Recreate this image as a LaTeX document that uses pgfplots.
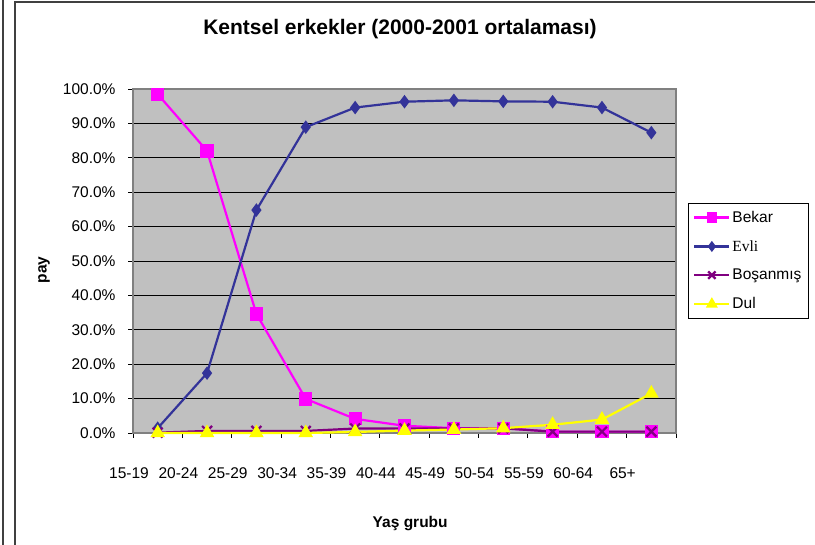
\documentclass[border=0pt]{standalone}
\usepackage{fontspec}
\setmainfont{Liberation Sans}
\newfontfamily\timesfont{Liberation Serif}
\usepackage{pgfplots}
\pgfplotsset{compat=1.18}
\definecolor{bekar}{HTML}{FF00FF}
\definecolor{evli}{HTML}{333399}
\definecolor{bosan}{HTML}{800080}
\definecolor{dul}{HTML}{FFFF00}
\definecolor{plotbg}{HTML}{C0C0C0}
\definecolor{borderc}{HTML}{808080}
\begin{document}
\begin{tikzpicture}[x=1bp,y=1bp]
\useasboundingbox (0,0) rectangle (815,545);
\draw[line width=1.2bp, black!75] (3,0) -- (3,545);
\draw[line width=1.2bp, black!75] (15,0) -- (15,543) -- (815,543);
\begin{axis}[
  at={(133bp,112bp)}, anchor=south west,
  scale only axis, width=543bp, height=344bp,
  xmin=-0.5, xmax=10.5, ymin=0, ymax=100,
  clip=false,
  axis background/.style={fill=plotbg},
  axis line style={draw=borderc, line width=1.8bp},
  ymajorgrids,
  major grid style={black, line width=0.9bp},
  tick align=outside,
  major tick length=5bp,
  tick style={black, line width=0.9bp},
  xtick pos=left, ytick pos=left,
  xtick={-0.5,0.5,1.5,2.5,3.5,4.5,5.5,6.5,7.5,8.5,9.5,10.5},
  xticklabels={15-19,20-24,25-29,30-34,35-39,40-44,45-49,50-54,55-59,60-64,\raisebox{2bp}{65+},{}},
  ytick={0,10,...,100},
  /pgf/number format/assume math mode=true,
  yticklabel={\pgfmathprintnumber[fixed,fixed zerofill,precision=1]{\tick}\%},
  ticklabel style={font=\fontsize{15.5bp}{18bp}\selectfont},
  xticklabel style={yshift=-26bp, xshift=-4bp},
  yticklabel style={xshift=-9bp},
  title={Kentsel erkekler (2000-2001 ortalaması)},
  title style={at={(axis description cs:0.4917,1.157)}, anchor=center, font=\bfseries\fontsize{21bp}{24bp}\selectfont},
  xlabel={Yaş grubu},
  xlabel style={at={(axis description cs:0.5105,0)}, anchor=center, yshift=-90.5bp, font=\bfseries\fontsize{15.5bp}{18bp}\selectfont},
  ylabel={pay},
  ylabel style={at={(axis description cs:-0.164,0.474)}, anchor=center, font=\bfseries\fontsize{15.5bp}{18bp}\selectfont},
  legend style={at={(1.022,0.669)}, anchor=north west, draw=black, line width=0.6bp, fill=white,
    font=\fontsize{15.5bp}{18bp}\selectfont, row sep=12.5bp, inner xsep=5bp, inner ysep=6bp},
  legend cell align=left,
  legend image code/.code={\draw[mark repeat=2,mark phase=2, mark options={solid,scale=0.75}] plot coordinates {(0bp,0bp)(17.5bp,0bp)(35bp,0bp)};},
]
\addplot[color=bekar, line width=2.2bp, mark=square*, mark size=5.5bp, mark options={solid}] coordinates {
(0,98.5)(1,82.0)(2,34.6)(3,9.9)(4,4.1)(5,2.1)(6,1.4)(7,1.4)(8,0.4)(9,0.4)(10,0.4)};
\addlegendentry{Bekar}
\addplot[color=evli, line width=2.2bp, mark=diamond*, mark size=5bp, mark options={solid}] coordinates {
(0,1.4)(1,17.4)(2,64.8)(3,88.9)(4,94.6)(5,96.3)(6,96.7)(7,96.4)(8,96.3)(9,94.6)(10,87.3)};
\addlegendentry{\timesfont Evli}
\addplot[color=bosan, line width=2.2bp, mark=x, mark size=7bp, mark options={solid}] coordinates {
(0,0.1)(1,0.6)(2,0.6)(3,0.6)(4,1.3)(5,1.3)(6,1.35)(7,1.35)(8,0.4)(9,0.4)(10,0.4)};
\addlegendentry{Boşanmış}
\addplot[color=dul, line width=2.2bp, mark=triangle*, mark size=6.3bp, mark options={solid}] coordinates {
(0,0)(1,0)(2,0)(3,0)(4,0.3)(5,0.7)(6,1.0)(7,1.4)(8,2.4)(9,3.9)(10,11.5)};
\addlegendentry{Dul}
\end{axis}
\end{tikzpicture}
\end{document}
